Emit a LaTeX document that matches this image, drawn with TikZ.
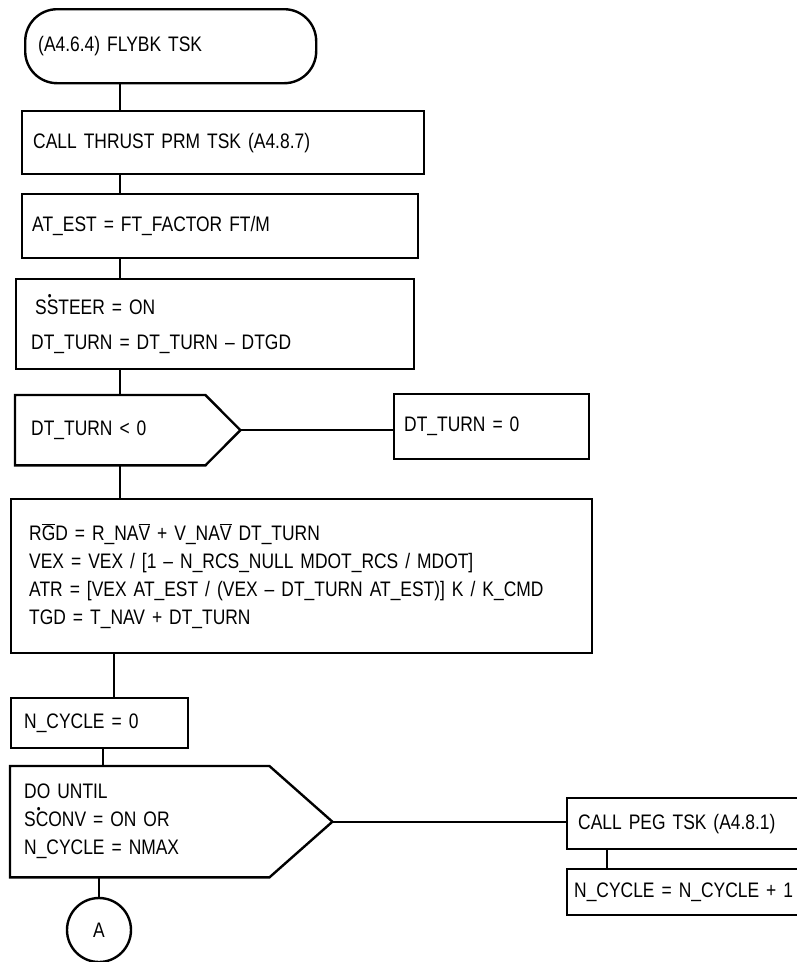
\documentclass[tikz,border=0pt]{standalone}
\usepackage{fontspec}
\setmainfont{Liberation Sans}[FakeStretch=0.83]
\usetikzlibrary{calc}
\newcommand{\sdot}{\makebox[0pt][l]{\hspace{0.05em}\raisebox{0.66em}{\fontsize{13}{13}\selectfont\textbullet}}}
\newcommand{\vbar}[1]{\ensuremath{\overline{\mbox{#1}}}}

\begin{document}
\begin{tikzpicture}[x=1pt, y=-1pt, line width=2.4pt,
  font=\fontsize{21}{28}\selectfont,
  blk/.style={draw, anchor=north west, align=left, inner ysep=0pt},
  txt/.style={anchor=north west, align=left, inner ysep=0pt},
  term/.style={blk, rounded corners=32pt},
  conn/.style={circle, draw, minimum size=64pt, inner sep=0pt}]
\useasboundingbox (0,0) rectangle (796,962);
\node[term, text width=265pt, inner xsep=13pt, minimum height=74pt] (start) at (24,8) {(A4.6.4) FLYBK TSK};
\node[blk, text width=380pt, inner xsep=11pt, minimum height=63pt] (thrust) at (21,110) {CALL THRUST PRM TSK (A4.8.7)};
\node[blk, text width=376pt, inner xsep=10pt, minimum height=64pt] (atest) at (21,193) {AT\_EST = FT\_FACTOR FT/M};
\node[blk, text width=368pt, inner xsep=15pt, minimum height=90pt] (steer) at (15,278)
  {\hspace{4pt}S\sdot STEER = ON\\[7pt]DT\_TURN = DT\_TURN -- DTGD};
\node[txt, text width=158pt, inner xsep=15pt, minimum height=68pt] (turn) at (15,395) {DT\_TURN < 0};
\coordinate (turntip) at ([xshift=35pt]turn.east);
\draw (turn.north west) -- (turn.north east) -- (turntip) -- (turn.south east) -- (turn.south west) -- cycle;
\node[blk, text width=175pt, inner xsep=10pt, minimum height=65pt] (zero) at (393,393) {DT\_TURN = 0};
\node[blk, text width=545pt, inner xsep=18pt, minimum height=154pt] (guid) at (10,498)
  {R\vbar{G}D = R\_NA\vbar{V} + V\_NA\vbar{V} DT\_TURN\\
   VEX = VEX / [1 -- N\_RCS\_NULL MDOT\_RCS / MDOT]\\
   ATR = [VEX AT\_EST / (VEX -- DT\_TURN AT\_EST)] K / K\_CMD\\
   TGD = T\_NAV + DT\_TURN};
\node[blk, text width=151pt, inner xsep=13pt, minimum height=50pt] (ncyc) at (10,697) {N\_CYCLE = 0};
\node[txt, text width=231pt, inner xsep=13pt, minimum height=109pt] (loop) at (10,766)
  {DO UNTIL\\ S\sdot CONV = ON OR\\ N\_CYCLE = NMAX};
\coordinate (looptip) at ([xshift=63pt]loop.east);
\draw (loop.north west) -- (loop.north east) -- (looptip) -- (loop.south east) -- (loop.south west) -- cycle;
\node[blk, text width=242pt, inner xsep=11pt, minimum height=51pt] (peg) at (566,797) {CALL PEG TSK (A4.8.1)};
\node[blk, text width=250pt, inner xsep=7pt, minimum height=46pt] (incr) at (566,868) {N\_CYCLE = N\_CYCLE + 1};
\node[conn] (conA) at (99,930) {A};
\coordinate (sp1) at (120,0);
\coordinate (sp2) at (114,0);
\coordinate (sp3) at (103,0);
\coordinate (sp4) at (607,0);
\foreach \a/\b in {start/thrust, thrust/atest, atest/steer, steer/turn, turn/guid}
  \draw (\a.south -| sp1) -- (\b.north -| sp1);
\draw (turntip) -- (turntip -| zero.west);
\draw (guid.south -| sp2) -- (ncyc.north -| sp2);
\draw (ncyc.south -| sp3) -- (loop.north -| sp3);
\draw (loop.south -| conA) -- (conA.north);
\draw (looptip) -- (looptip -| peg.west);
\draw (peg.south -| sp4) -- (incr.north -| sp4);
\end{tikzpicture}
\end{document}
